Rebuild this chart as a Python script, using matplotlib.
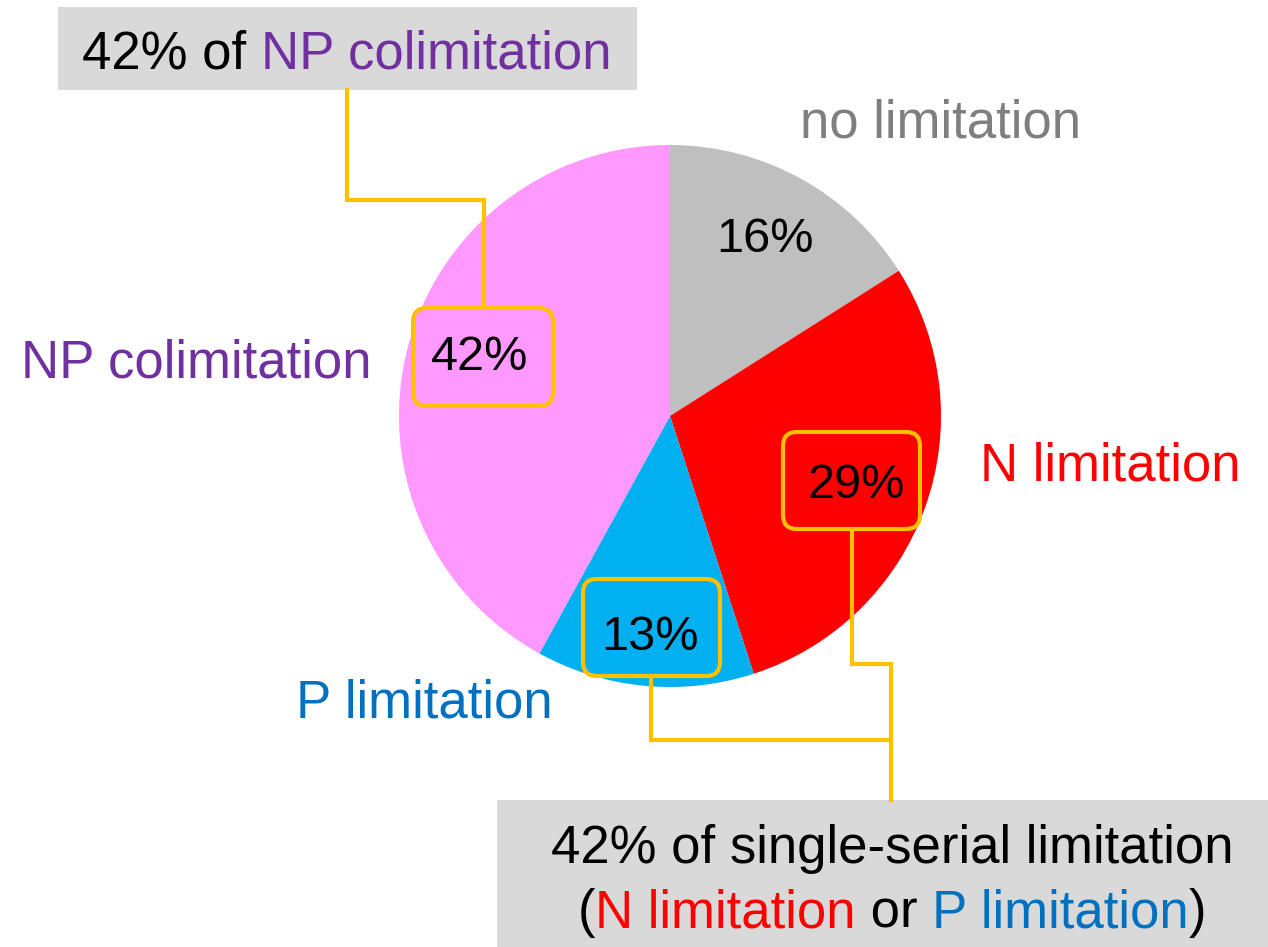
import matplotlib.pyplot as plt
from matplotlib.patches import FancyBboxPatch, Rectangle

plt.rcParams['font.family'] = ['Liberation Sans', 'DejaVu Sans']

# data
categories = ['no limitation', 'N limitation', 'P limitation', 'NP colimitation']
shares = [16, 29, 13, 42]
slice_colors = ['#BFBFBF', '#FF0000', '#00B0F0', '#FF99FF']
label_colors = ['#7F7F7F', '#FF0000', '#0070C0', '#7030A0']

W, H = 1268, 947
fig = plt.figure(figsize=(W / 100, H / 100), dpi=100)
ax = fig.add_axes([0, 0, 1, 1])
ax.set_xlim(0, W)
ax.set_ylim(H, 0)   # pixel-like coords, y down

# pie (y axis is inverted, so counterclock in data = clockwise on screen)
ax.pie(shares, colors=slice_colors, startangle=-90, counterclock=True,
       center=(670, 416), radius=271, frame=True,
       wedgeprops=dict(linewidth=0))
ax.set_xlim(0, W)
ax.set_ylim(H, 0)
ax.set_aspect('equal')
ax.axis('off')

FS = 38
ORANGE = '#FFC000'
renderer = fig.canvas.get_renderer()


def text_width(s, size):
    t = ax.text(0, 0, s + '|', fontsize=size)
    t2 = ax.text(0, 0, '|', fontsize=size)
    w = t.get_window_extent(renderer).width - t2.get_window_extent(renderer).width
    t.remove()
    t2.remove()
    return w


def colored_line(xc, y, parts, size=FS):
    full = ''.join(s for s, _ in parts)
    total = text_width(full, size)
    x0 = xc - total / 2
    prefix = ''
    for s, c in parts:
        ax.text(x0 + text_width(prefix, size), y, s, color=c, fontsize=size,
                ha='left', va='baseline')
        prefix += s


# category labels around the pie
label_pos = {
    'no limitation': (940, 137),
    'N limitation': (1110, 480),
    'P limitation': (424, 717),
    'NP colimitation': (196, 377),
}
for cat, col in zip(categories, label_colors):
    x, y = label_pos[cat]
    ax.text(x, y, cat, color=col, fontsize=FS, ha='center', va='baseline')

# percent boxes (orange rounded frames)
pct_boxes = {
    'NP colimitation': (413, 308, 553, 406, 480, 370),
    'N limitation': (783, 432, 920, 529, 856, 498),
    'P limitation': (583, 579, 720, 676, 650, 650),
}
for cat, v, col in zip(categories, shares, slice_colors):
    if cat not in pct_boxes:
        ax.text(765, 252, f'{v}%', fontsize=35, ha='center', va='baseline')
        continue
    x0, y0, x1, y1, tx, ty = pct_boxes[cat]
    ax.add_patch(FancyBboxPatch((x0, y0), x1 - x0, y1 - y0,
                                boxstyle='round,pad=0,rounding_size=14',
                                facecolor=col, edgecolor=ORANGE, linewidth=3,
                                zorder=3))
    ax.text(tx, ty, f'{v}%', fontsize=35, ha='center', va='baseline', zorder=4)

# connector lines
lw = 3
ax.plot([347, 347, 484, 484], [90, 200, 200, 308], color=ORANGE, lw=lw,
        solid_joinstyle='miter', zorder=2)
ax.plot([852, 852, 891, 891], [529, 664, 664, 800], color=ORANGE, lw=lw,
        solid_joinstyle='miter', zorder=2)
ax.plot([651, 651, 891], [676, 740, 740], color=ORANGE, lw=lw,
        solid_joinstyle='miter', zorder=2)

# grey summary boxes
ax.add_patch(Rectangle((58, 7), 579, 83, facecolor='#D9D9D9',
                       edgecolor='none', zorder=1))
ax.add_patch(Rectangle((497, 800), 771, 147, facecolor='#D9D9D9',
                       edgecolor='none', zorder=1))

colored_line(347, 68, [('42% of ', 'black'),
                       ('NP colimitation', label_colors[3])])
colored_line(892, 863, [('42% of single-serial limitation', 'black')])
colored_line(892, 927, [('(', 'black'), ('N limitation', label_colors[1]),
                        (' or ', 'black'), ('P limitation', label_colors[2]),
                        (')', 'black')])

fig.savefig('out.png', dpi=100)
